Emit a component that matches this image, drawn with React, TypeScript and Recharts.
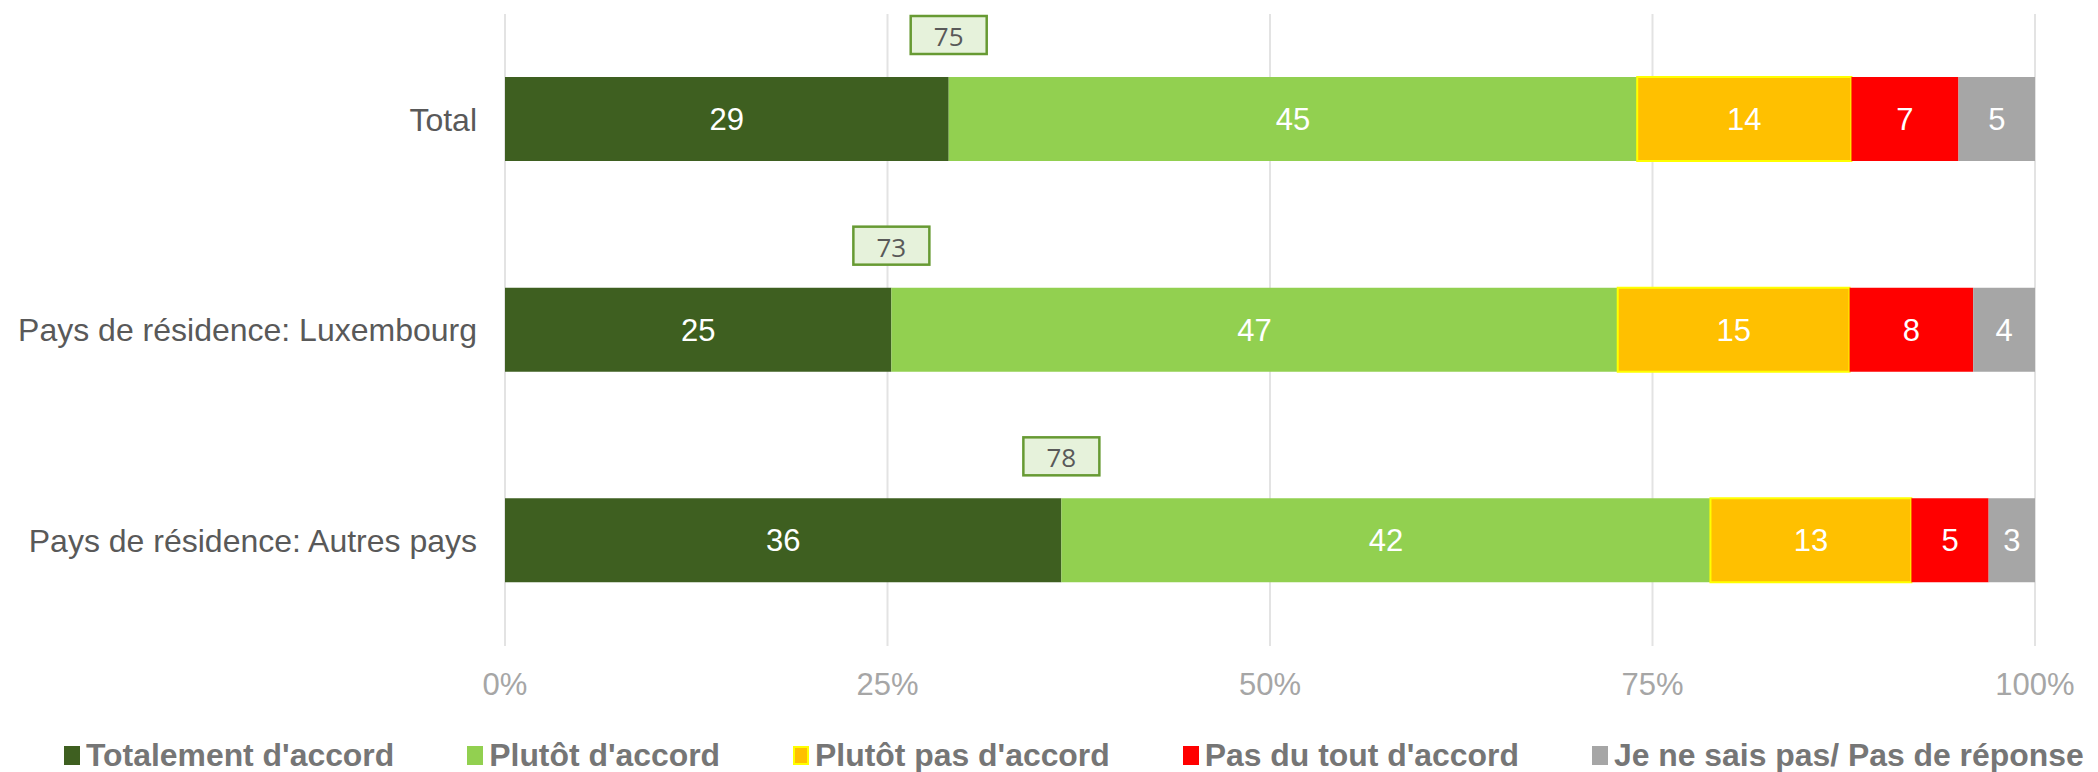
import { BarChart, Bar, XAxis, YAxis, CartesianGrid, Legend, LabelList } from 'recharts';

// données (pourcentages par ligne)
const categories = ['Total', 'Pays de résidence: Luxembourg', 'Pays de résidence: Autres pays'];
const totalementDaccord = [29, 25, 36];
const plutotDaccord = [45, 47, 42];
const plutotPasDaccord = [14, 15, 13];
const pasDuToutDaccord = [7, 8, 5];
const neSaitPas = [5, 4, 3];
const totalAccord = [75, 73, 78];
const xTicks = [0, 0.25, 0.5, 0.75, 1];

const series = [
  { key: 'tda', name: "Totalement d'accord", color: '#3E5F20', border: 'none' },
  { key: 'pda', name: "Plutôt d'accord", color: '#92D050', border: 'none' },
  { key: 'ppa', name: "Plutôt pas d'accord", color: '#FFC000', border: '#FFFF00' },
  { key: 'pta', name: "Pas du tout d'accord", color: '#FF0000', border: 'none' },
  { key: 'nsp', name: 'Je ne sais pas/ Pas de réponse', color: '#A6A6A6', border: 'none' },
];

const data = categories.map((name, i) => ({
  name,
  tda: totalementDaccord[i],
  pda: plutotDaccord[i],
  ppa: plutotPasDaccord[i],
  pta: pasDuToutDaccord[i],
  nsp: neSaitPas[i],
  total: totalAccord[i],
}));

const FONT = '"Liberation Sans", Arial, sans-serif';

// boîte verte au-dessus de la fin du segment "Totalement d'accord"
const TotalBox = (props: any) => {
  const { x, y, width, value } = props;
  const cx = x + width;
  const bw = 76;
  const bh = 38;
  const top = y - 23 - bh;
  return (
    <g>
      <rect x={cx - bw / 2} y={top} width={bw} height={bh} fill="#E6F2DB" stroke="#679A33" strokeWidth={2.5} />
      <text
        x={cx}
        y={top + bh / 2 + 1}
        textAnchor="middle"
        dominantBaseline="central"
        fill="#595959"
        fontSize={26}
        fontFamily='"Open Sans", sans-serif'
      >
        {value}
      </text>
    </g>
  );
};

const renderLegend = () => (
  <div style={{ display: 'flex', alignItems: 'center', paddingLeft: 64, paddingTop: 26, height: 60, boxSizing: 'border-box' }}>
    {series.map((s) => (
      <div key={s.key} style={{ display: 'flex', alignItems: 'center', marginRight: 73 }}>
        <span
          style={{
            display: 'inline-block',
            width: 16,
            height: 19,
            background: s.color,
            boxSizing: 'border-box',
            border: s.border === 'none' ? 'none' : `2px solid ${s.border}`,
            marginRight: 6,
          }}
        />
        <span style={{ fontFamily: FONT, fontWeight: 'bold', fontSize: 31.9, color: '#767676', whiteSpace: 'nowrap' }}>
          {s.name}
        </span>
      </div>
    ))}
  </div>
);

export default function App() {
  return (
    <div style={{ position: 'absolute', left: 0, top: 0, width: 2098, height: 772, background: '#fff' }}>
      <BarChart
        width={2098}
        height={772}
        data={data}
        layout="vertical"
        stackOffset="expand"
        barSize={84}
        margin={{ top: 14, right: 63, left: 0, bottom: 0 }}
      >
        <CartesianGrid horizontal={false} stroke="#E3E3E3" strokeWidth={2} />
        <XAxis
          type="number"
          domain={[0, 1]}
          ticks={xTicks}
          tickFormatter={(v: number) => `${Math.round(v * 100)}%`}
          axisLine={false}
          tickLine={false}
          tickSize={0}
          tickMargin={27}
          height={66}
          tick={{ fill: '#A6A6A6', fontSize: 31, fontFamily: FONT }}
        />
        <YAxis
          type="category"
          dataKey="name"
          width={505}
          axisLine={false}
          tickLine={false}
          tickSize={0}
          tickMargin={28}
          tick={{ fill: '#595959', fontSize: 32, fontFamily: FONT }}
        />
        <Legend verticalAlign="bottom" height={60} content={renderLegend} wrapperStyle={{ left: 0, width: 2098 }} />
        {series.map((s, i) => (
          <Bar
            key={s.key}
            dataKey={s.key}
            name={s.name}
            stackId="a"
            fill={s.color}
            stroke={s.border === 'none' ? undefined : s.border}
            strokeWidth={s.border === 'none' ? 0 : 2}
            isAnimationActive={false}
          >
            <LabelList
              dataKey={s.key}
              position="center"
              fill="#FFFFFF"
              fontSize={31}
              fontFamily={FONT}
            />
            {i === 0 && <LabelList dataKey="total" content={TotalBox} />}
          </Bar>
        ))}
      </BarChart>
    </div>
  );
}
